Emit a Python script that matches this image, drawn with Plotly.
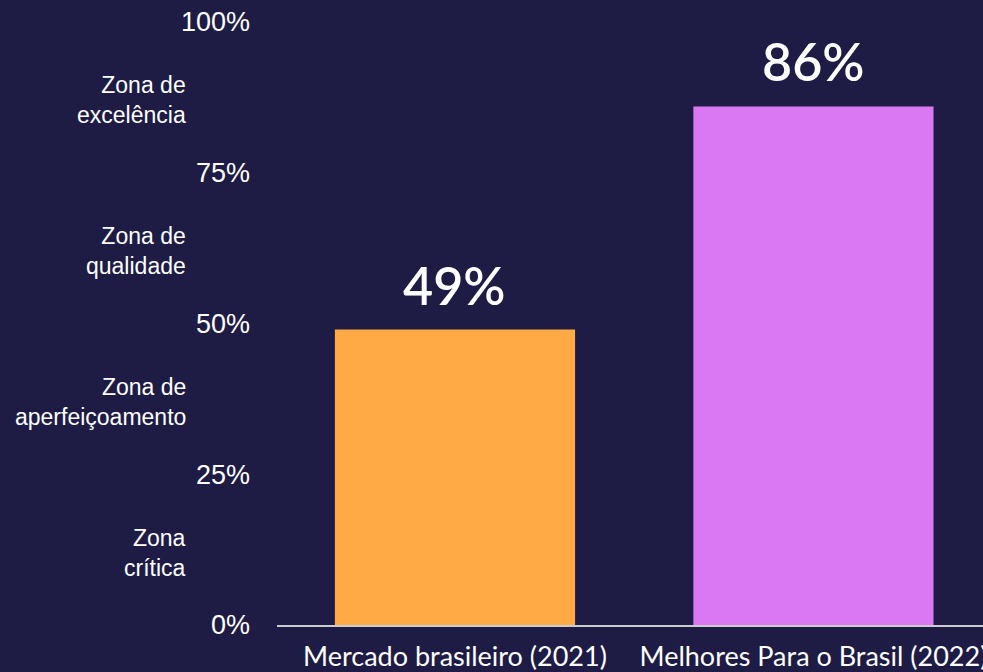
import plotly.graph_objects as go

categories = ["Mercado brasileiro (2021)", "Melhores Para o Brasil (2022)"]
values = [49, 86]
bar_colors = ["#FFAA44", "#DA77F2"]
tick_vals = [0, 25, 50, 75, 100]
tick_text = ["0%", "25%", "50%", "75%", "100%"]
zone_pos = [12.5, 37.5, 62.5, 87.5]
zone_text = ["Zona<br>crítica", "Zona de<br>aperfeiçoamento", "Zona de<br>qualidade", "Zona de<br>excelência"]

BG = "#1E1C45"

fig = go.Figure()
fig.add_trace(go.Bar(
    x=categories, y=values, marker_color=bar_colors, marker_line_width=0,
    width=0.67, hoverinfo="skip",
))

annotations = []
for c, v in zip(categories, values):
    annotations.append(dict(
        x=c, y=v, xref="x", yref="y", text=f"{v}%", showarrow=False,
        yanchor="bottom", yshift=12,
        font=dict(family="Lato", size=52, color="white", weight=600),
    ))
for p, t in zip(zone_pos, zone_text):
    annotations.append(dict(
        x=0, y=p, xref="paper", yref="y", text=t, showarrow=False,
        xanchor="right", yanchor="middle", align="right", xshift=-89, yshift=-3,
        font=dict(family="Liberation Sans, Arial", size=23, color="white"),
    ))

fig.update_layout(
    width=983, height=672,
    paper_bgcolor=BG, plot_bgcolor=BG,
    margin=dict(l=277, r=0, t=22, b=47),
    showlegend=False,
    annotations=annotations,
    bargap=0.33,
)
fig.update_xaxes(
    range=[-0.4965, 1.473], showgrid=False, zeroline=False, automargin=False,
    showline=True, linecolor="#CCCCCC", linewidth=2,
    ticks="", ticklabelstandoff=7,
    tickfont=dict(family="Lato", size=27, color="white"),
)
fig.update_yaxes(
    range=[0, 100], showgrid=False, zeroline=False, showline=False, automargin=False,
    tickvals=tick_vals, ticktext=tick_text, ticks="",
    ticklabelstandoff=26,
    tickfont=dict(family="Liberation Sans, Arial", size=27, color="white"),
)

fig.write_html(
    "out.html",
    config={"displayModeBar": False},
    post_script="document.body.style.margin='0';document.body.style.background='" + BG + "';",
)
